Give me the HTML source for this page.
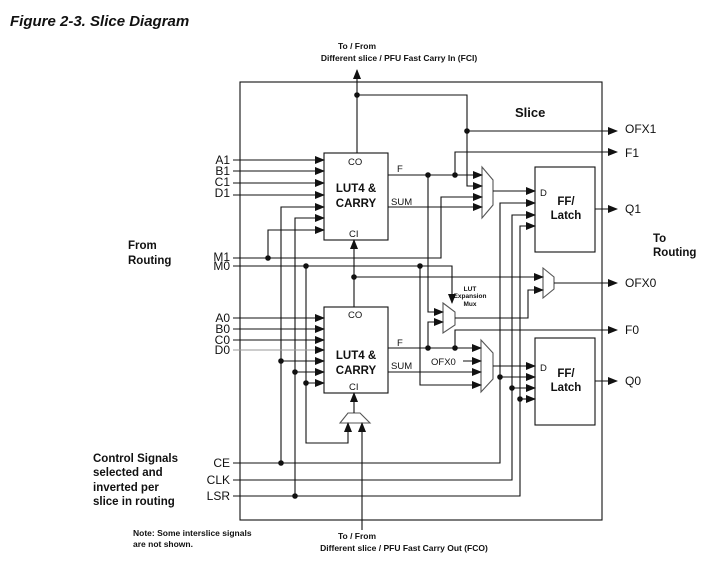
<!DOCTYPE html>
<html><head><meta charset="utf-8"><style>
body{margin:0;background:#fff;}
svg{display:block;font-family:"Liberation Sans",sans-serif;}
</style></head><body>
<svg width="718" height="575" viewBox="0 0 718 575" xmlns="http://www.w3.org/2000/svg">
<defs>
<marker id="a" markerWidth="10" markerHeight="8" refX="9" refY="4" orient="auto" markerUnits="userSpaceOnUse"><path d="M0,0 L10,4 L0,8 Z" fill="#111"/></marker>
</defs>
<g fill="#111">
<text x="10" y="26" font-size="15" font-weight="bold" font-style="italic">Figure 2-3. Slice Diagram</text>
<text x="357" y="49" font-size="8.5" font-weight="bold" text-anchor="middle">To / From</text>
<text x="399" y="61" font-size="8.5" font-weight="bold" text-anchor="middle">Different slice /  PFU Fast Carry In (FCI)</text>
<text x="357" y="539" font-size="8.5" font-weight="bold" text-anchor="middle">To / From</text>
<text x="404" y="551" font-size="8.5" font-weight="bold" text-anchor="middle">Different slice /  PFU Fast Carry Out (FCO)</text>
<text x="133" y="536" font-size="8.5" font-weight="bold">Note: Some interslice signals</text>
<text x="133" y="547" font-size="8.5" font-weight="bold">are not shown.</text>
<text x="128" y="249" font-size="11.5" font-weight="bold">From</text>
<text x="128" y="264" font-size="11.5" font-weight="bold">Routing</text>
<text x="653" y="242" font-size="11.5" font-weight="bold">To</text>
<text x="653" y="256" font-size="11.5" font-weight="bold">Routing</text>
<text x="93" y="462" font-size="11.5" font-weight="bold">Control Signals</text>
<text x="93" y="476" font-size="11.5" font-weight="bold">selected and</text>
<text x="93" y="491" font-size="11.5" font-weight="bold">inverted per</text>
<text x="93" y="505" font-size="11.5" font-weight="bold">slice in routing</text>
<text x="515" y="117" font-size="13" font-weight="bold">Slice</text>
<g font-size="12" text-anchor="end">
<text x="230" y="164">A1</text><text x="230" y="175">B1</text><text x="230" y="186">C1</text><text x="230" y="197">D1</text>
<text x="230" y="261">M1</text><text x="230" y="270">M0</text>
<text x="230" y="322">A0</text><text x="230" y="333">B0</text><text x="230" y="344">C0</text><text x="230" y="354">D0</text>
<text x="230" y="467">CE</text><text x="230" y="484">CLK</text><text x="230" y="500">LSR</text>
</g>
<g font-size="12">
<text x="625" y="133">OFX1</text><text x="625" y="157">F1</text><text x="625" y="213">Q1</text>
<text x="625" y="287">OFX0</text><text x="625" y="334">F0</text><text x="625" y="385">Q0</text>
</g>
<g font-size="9.5">
<text x="348" y="165">CO</text><text x="349" y="237">CI</text><text x="397" y="172">F</text><text x="391" y="205">SUM</text>
<text x="348" y="318">CO</text><text x="349" y="390">CI</text><text x="397" y="346">F</text><text x="391" y="369">SUM</text>
<text x="431" y="365">OFX0</text>
<text x="540" y="196">D</text><text x="540" y="371">D</text>
</g>
<g font-size="11.5" font-weight="bold" text-anchor="middle">
<text x="356" y="192">LUT4 &amp;</text><text x="356" y="207">CARRY</text>
<text x="356" y="359">LUT4 &amp;</text><text x="356" y="374">CARRY</text>
<text x="566" y="205">FF/</text><text x="566" y="219">Latch</text>
<text x="566" y="377">FF/</text><text x="566" y="391">Latch</text>
</g>
<g font-size="6.5" font-weight="bold" text-anchor="middle">
<text x="470" y="291">LUT</text><text x="470" y="298">Expansion</text><text x="470" y="306">Mux</text>
</g>
</g>
<g fill="none" stroke="#111" stroke-width="1.1">
<rect x="240" y="82" width="362" height="438"/>
<rect x="324" y="153" width="64" height="87"/>
<rect x="324" y="307" width="64" height="86"/>
<rect x="535" y="167" width="60" height="85"/>
<rect x="535" y="338" width="60" height="87"/>
</g>
<g fill="#fff" stroke="#555" stroke-width="1.1">
<path d="M482,167 L493,180 L493,205 L482,218 Z"/>
<path d="M481,340 L493,353 L493,379 L481,392 Z"/>
<path d="M543,268 L554,277 L554,289 L543,298 Z"/>
<path d="M443,303 L455,312 L455,325 L443,333 Z"/>
<path d="M348,413 L360,413 L370,423 L340,423 Z"/>
</g>
<g fill="none" stroke="#111" stroke-width="1.1">
<path d="M357,153 V70" marker-end="url(#a)"/>
<path d="M357,95 H467 V186 H482" marker-end="url(#a)"/>
<path d="M467,131 H617" marker-end="url(#a)"/>
<path d="M233,160 H324" marker-end="url(#a)"/>
<path d="M233,171 H324" marker-end="url(#a)"/>
<path d="M233,183 H324" marker-end="url(#a)"/>
<path d="M233,195 H324" marker-end="url(#a)"/>
<path d="M281,463 V207 H324" marker-end="url(#a)"/>
<path d="M295,496 V218 H324" marker-end="url(#a)"/>
<path d="M268,258 V230 H324" marker-end="url(#a)"/>
<path d="M233,258 H441 V197 H482" marker-end="url(#a)"/>
<path d="M233,266 H452 V303" marker-end="url(#a)"/>
<path d="M420,266 V385 H481" marker-end="url(#a)"/>
<path d="M306,266 V443 H348 V423" marker-end="url(#a)"/>
<path d="M388,175 H482" marker-end="url(#a)"/>
<path d="M455,175 V152 H617" marker-end="url(#a)"/>
<path d="M428,175 V312 H443" marker-end="url(#a)"/>
<path d="M388,207 H482" marker-end="url(#a)"/>
<path d="M493,191 H535" marker-end="url(#a)"/>
<path d="M595,209 H617" marker-end="url(#a)"/>
<path d="M233,463 H500 V203 H535" marker-end="url(#a)"/>
<path d="M233,480 H512 V215 H535" marker-end="url(#a)"/>
<path d="M233,496 H520 V226 H535" marker-end="url(#a)"/>
<path d="M500,377 H535" marker-end="url(#a)"/>
<path d="M512,388 H535" marker-end="url(#a)"/>
<path d="M520,399 H535" marker-end="url(#a)"/>
<path d="M354,307 V240" marker-end="url(#a)"/>
<path d="M354,277 H543" marker-end="url(#a)"/>
<path d="M455,318 H528 V290 H543" marker-end="url(#a)"/>
<path d="M554,283 H617" marker-end="url(#a)"/>
<path d="M233,318 H324" marker-end="url(#a)"/>
<path d="M233,329 H324" marker-end="url(#a)"/>
<path d="M233,340 H324" marker-end="url(#a)"/>
<path d="M233,350 H324" stroke="#999" marker-end="url(#a)"/>
<path d="M281,361 H324" marker-end="url(#a)"/>
<path d="M295,372 H324" marker-end="url(#a)"/>
<path d="M306,383 H324" marker-end="url(#a)"/>
<path d="M388,348 H481" marker-end="url(#a)"/>
<path d="M428,348 V322 H443" marker-end="url(#a)"/>
<path d="M455,348 V330 H617" marker-end="url(#a)"/>
<path d="M463,361 H481" marker-end="url(#a)"/>
<path d="M388,372 H481" marker-end="url(#a)"/>
<path d="M493,366 H535" marker-end="url(#a)"/>
<path d="M595,381 H617" marker-end="url(#a)"/>
<path d="M354,413 V393" marker-end="url(#a)"/>
<path d="M362,530 V423" marker-end="url(#a)"/>
</g>
<g fill="#111">
<circle cx="357" cy="95" r="2.8"/><circle cx="467" cy="131" r="2.8"/>
<circle cx="428" cy="175" r="2.8"/><circle cx="455" cy="175" r="2.8"/>
<circle cx="268" cy="258" r="2.8"/><circle cx="306" cy="266" r="2.8"/><circle cx="420" cy="266" r="2.8"/>
<circle cx="354" cy="277" r="2.8"/>
<circle cx="281" cy="361" r="2.8"/><circle cx="295" cy="372" r="2.8"/><circle cx="306" cy="383" r="2.8"/>
<circle cx="428" cy="348" r="2.8"/><circle cx="455" cy="348" r="2.8"/>
<circle cx="500" cy="377" r="2.8"/><circle cx="512" cy="388" r="2.8"/><circle cx="520" cy="399" r="2.8"/>
<circle cx="281" cy="463" r="2.8"/><circle cx="295" cy="496" r="2.8"/>
</g>
</svg>
</body></html>
